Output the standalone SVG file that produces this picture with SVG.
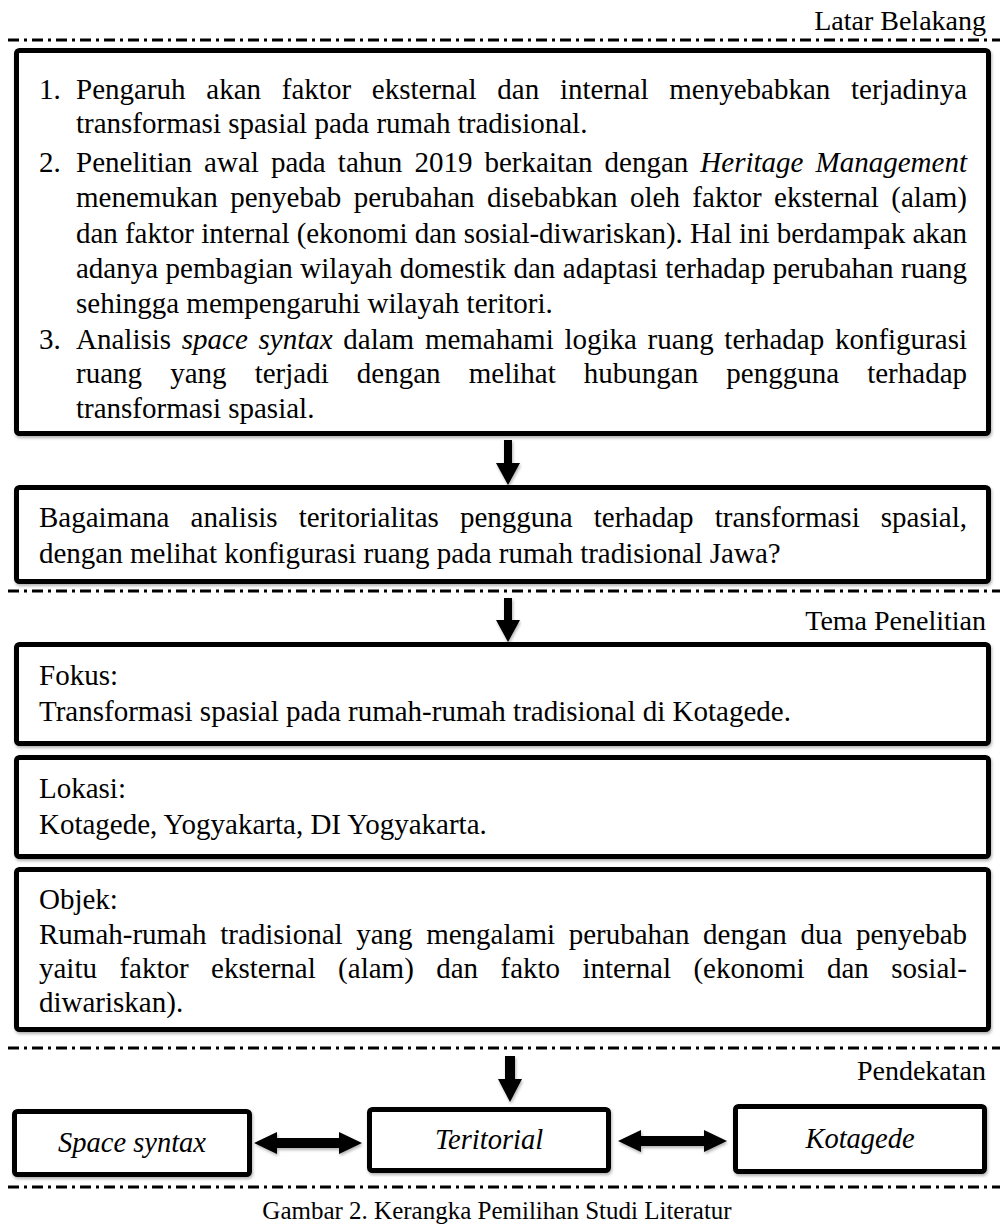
<svg xmlns="http://www.w3.org/2000/svg" width="1000" height="1224" viewBox="0 0 1000 1224">
<style>
.t{font-family:"Liberation Serif","Times New Roman",serif;font-size:29px;fill:#000}
.h{font-size:28px}
.c{font-size:25px}
.i{font-style:italic}
.lb{font-size:28.5px}
.box{fill:#fff;stroke:#000;stroke-width:5;filter:url(#sh)}
.dash{stroke:#000;stroke-width:3;stroke-dasharray:11 5 3 5;fill:none}
.arr{fill:#000;filter:url(#sh)}
</style>
<defs>
<filter id="sh" x="-5%" y="-5%" width="110%" height="115%">
<feDropShadow dx="1" dy="2" stdDeviation="1.5" flood-color="#000" flood-opacity="0.3"/>
</filter>
</defs>
<rect width="1000" height="1224" fill="#fff"/>

<g id="separators">
<line class="dash" x1="8" y1="40" x2="1000" y2="40"/>
<line class="dash" x1="8" y1="591" x2="1000" y2="591"/>
<line class="dash" x1="8" y1="1048" x2="1000" y2="1048"/>
<line class="dash" x1="8" y1="1187" x2="1000" y2="1187"/>
<text class="t h" x="986" y="30" text-anchor="end">Latar Belakang</text>
<text class="t h" x="986" y="630" text-anchor="end">Tema Penelitian</text>
<text class="t h" x="986" y="1080" text-anchor="end">Pendekatan</text>
</g>

<g id="latar">
<rect class="box" x="16.5" y="50.5" width="972" height="383" rx="3"/>
<text class="t" x="39" y="99">1.</text>
<text class="t" x="76" y="99" word-spacing="13.5" textLength="891" lengthAdjust="spacing">Pengaruh akan faktor eksternal dan internal menyebabkan terjadinya</text>
<text class="t" x="76" y="133">transformasi spasial pada rumah tradisional.</text>
<text class="t" x="39" y="172">2.</text>
<text class="t" x="76" y="172" word-spacing="4.86" textLength="891" lengthAdjust="spacing">Penelitian awal pada tahun 2019 berkaitan dengan <tspan class="i">Heritage Management</tspan></text>
<text class="t" x="76" y="207" word-spacing="5.21" textLength="891" lengthAdjust="spacing">menemukan penyebab perubahan disebabkan oleh faktor eksternal (alam)</text>
<text class="t" x="76" y="243" word-spacing="0" textLength="891" lengthAdjust="spacing">dan faktor internal (ekonomi dan sosial-diwariskan). Hal ini berdampak akan</text>
<text class="t" x="76" y="278" word-spacing="0.24" textLength="891" lengthAdjust="spacing">adanya pembagian wilayah domestik dan adaptasi terhadap perubahan ruang</text>
<text class="t" x="76" y="313">sehingga mempengaruhi wilayah teritori.</text>
<text class="t" x="39" y="349">3.</text>
<text class="t" x="76" y="349" word-spacing="3.45" textLength="891" lengthAdjust="spacing">Analisis <tspan class="i">space syntax</tspan> dalam memahami logika ruang terhadap konfigurasi</text>
<text class="t" x="76" y="383" word-spacing="20.86" textLength="891" lengthAdjust="spacing">ruang yang terjadi dengan melihat hubungan pengguna terhadap</text>
<text class="t" x="76" y="418">transformasi spasial.</text>
</g>

<g id="pertanyaan">
<rect class="box" x="16.5" y="487.5" width="972" height="94" rx="3"/>
<text class="t" x="39" y="527" word-spacing="13.85" textLength="928" lengthAdjust="spacing">Bagaimana analisis teritorialitas pengguna terhadap transformasi spasial,</text>
<text class="t" x="39" y="563">dengan melihat konfigurasi ruang pada rumah tradisional Jawa?</text>
</g>

<g id="fokus">
<rect class="box" x="16.5" y="644.5" width="972" height="99" rx="3"/>
<text class="t" x="39" y="685">Fokus:</text>
<text class="t" x="39" y="721">Transformasi spasial pada rumah-rumah tradisional di Kotagede.</text>
</g>

<g id="lokasi">
<rect class="box" x="16.5" y="757.5" width="972" height="99" rx="3"/>
<text class="t" x="39" y="798">Lokasi:</text>
<text class="t" x="39" y="834">Kotagede, Yogyakarta, DI Yogyakarta.</text>
</g>

<g id="objek">
<rect class="box" x="16.5" y="869.5" width="972" height="160" rx="3"/>
<text class="t" x="39" y="909">Objek:</text>
<text class="t" x="39" y="944" word-spacing="6.36" textLength="928" lengthAdjust="spacing">Rumah-rumah tradisional yang mengalami perubahan dengan dua penyebab</text>
<text class="t" x="39" y="978" word-spacing="15.14" textLength="928" lengthAdjust="spacing">yaitu faktor eksternal (alam) dan fakto internal (ekonomi dan sosial-</text>
<text class="t" x="39" y="1012">diwariskan).</text>
</g>

<g id="space-syntax">
<rect class="box" x="14.5" y="1111.5" width="235" height="63" rx="3"/>
<text class="t i lb" x="132" y="1152" text-anchor="middle">Space syntax</text>
</g>
<g id="teritorial">
<rect class="box" x="369.5" y="1109.5" width="239" height="61" rx="3"/>
<text class="t i lb" x="489" y="1149" text-anchor="middle">Teritorial</text>
</g>
<g id="kotagede">
<rect class="box" x="735.5" y="1106.5" width="249" height="65" rx="3"/>
<text class="t i lb" x="860" y="1148" text-anchor="middle">Kotagede</text>
</g>

<g id="connectors">
<polygon class="arr" points="504,440 512,440 512,463 520,463 508,485 496,463 504,463"/>
<polygon class="arr" points="504,598 512,598 512,620 520,620 508,642 496,620 504,620"/>
<polygon class="arr" points="505,1056 515,1056 515,1079 522,1079 510,1102 498,1079 505,1079"/>
<polygon class="arr" points="254,1143 277,1132 277,1138 339,1138 339,1132 362,1143 339,1154 339,1148 277,1148 277,1154"/>
<polygon class="arr" points="618,1141 641,1130 641,1136 704,1136 704,1130 727,1141 704,1152 704,1146 641,1146 641,1152"/>
</g>

<text class="t c" x="497" y="1219" text-anchor="middle">Gambar 2. Kerangka Pemilihan Studi Literatur</text>
</svg>
